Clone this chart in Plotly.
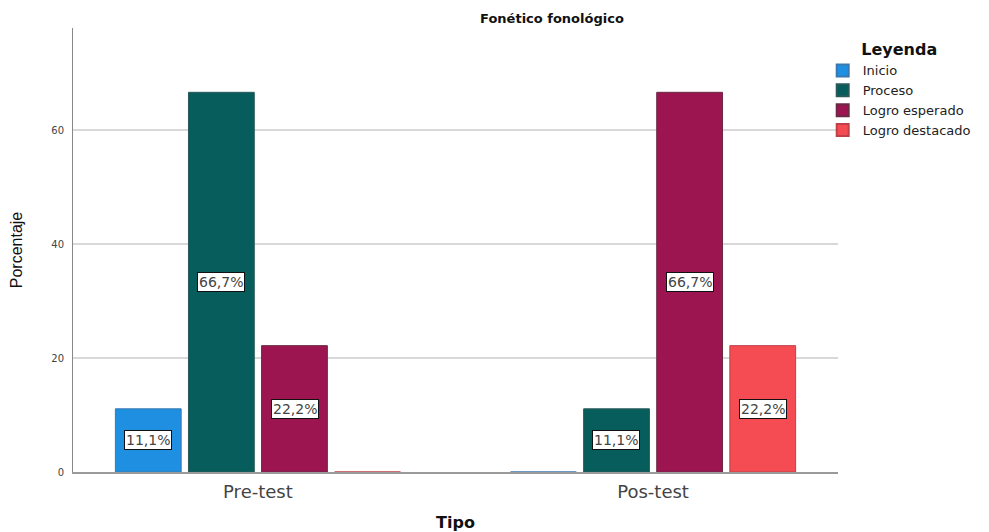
import plotly.graph_objects as go

categories = ["Pre-test", "Pos-test"]
series_names = ["Inicio", "Proceso", "Logro esperado", "Logro destacado"]
inicio = [11.1, 0]
proceso = [66.7, 11.1]
logro_esperado = [22.2, 66.7]
logro_destacado = [0, 22.2]
series_values = [inicio, proceso, logro_esperado, logro_destacado]
colors = ["#1e8fe1", "#075c5c", "#9c1551", "#f54b52"]
line_colors = ["#3a78b0", "#2a5a5a", "#6a2a44", "#c04048"]

FONT = "DejaVu Sans"

fig = go.Figure()
for name, vals, c, lc in zip(series_names, series_values, colors, line_colors):
    fig.add_trace(go.Bar(
        x=categories, y=vals, name=name,
        marker=dict(color=c, line=dict(color=lc, width=1)),
        hoverinfo="skip",
    ))

slot_px = 73.5
annotations = []
for i, vals in enumerate(series_values):
    for cat, v in zip(categories, vals):
        if v > 0:
            annotations.append(dict(
                x=cat, y=v / 2, xref="x", yref="y",
                xshift=(i - 1.5) * slot_px,
                text=f"{v:.1f}%".replace(".", ","),
                showarrow=False,
                font=dict(family=FONT, size=14, color="#444444"),
                bgcolor="white", bordercolor="#111111", borderwidth=1, borderpad=1,
            ))

fig.update_layout(
    width=981, height=524,
    paper_bgcolor="white", plot_bgcolor="white",
    margin=dict(l=65, r=151, t=20, b=60, autoexpand=False),
    font=dict(family=FONT, color="#333333"),
    title=dict(text="<b>Fonético fonológico</b>", x=0.5545, xref="container",
               xanchor="center", y=0.981, yanchor="middle",
               font=dict(family=FONT, size=13, color="#111111")),
    barmode="group", bargap=0.26, bargroupgap=0.1,
    showlegend=True,
    legend=dict(
        title=dict(text="<b>Leyenda</b>", font=dict(family=FONT, size=16, color="#111111"),
                   side="top center"),
        x=0.98, xanchor="left", y=0.985, yanchor="top",
        font=dict(family=FONT, size=13, color="#222222"),
        tracegroupgap=0, itemsizing="constant", itemwidth=30,
        bgcolor="rgba(0,0,0,0)",
    ),
    annotations=annotations,
)
fig.update_xaxes(
    range=[-0.468, 1.468], automargin=False,
    showline=True, linecolor="#9a9a9a", linewidth=1.5,
    ticks="", ticklabelstandoff=3,
    tickfont=dict(family=FONT, size=18, color="#444444"),
    title=dict(text="<b>Tipo</b>", font=dict(family=FONT, size=16, color="#111111"), standoff=21),
    showgrid=False, zeroline=False,
)
fig.update_yaxes(
    range=[0, 78], automargin=False,
    tickvals=[0, 20, 40, 60],
    showline=True, linecolor="#888888", linewidth=1,
    showgrid=True, gridcolor="#d8d8d8", gridwidth=1.5,
    zeroline=False,
    ticks="", ticklabelstandoff=6,
    tickfont=dict(family=FONT, size=10, color="#444444"),
    title=dict(text="Porcentaje", font=dict(family="Liberation Sans", size=16, color="#111111"), standoff=31),
)

fig.write_html("out.html")
